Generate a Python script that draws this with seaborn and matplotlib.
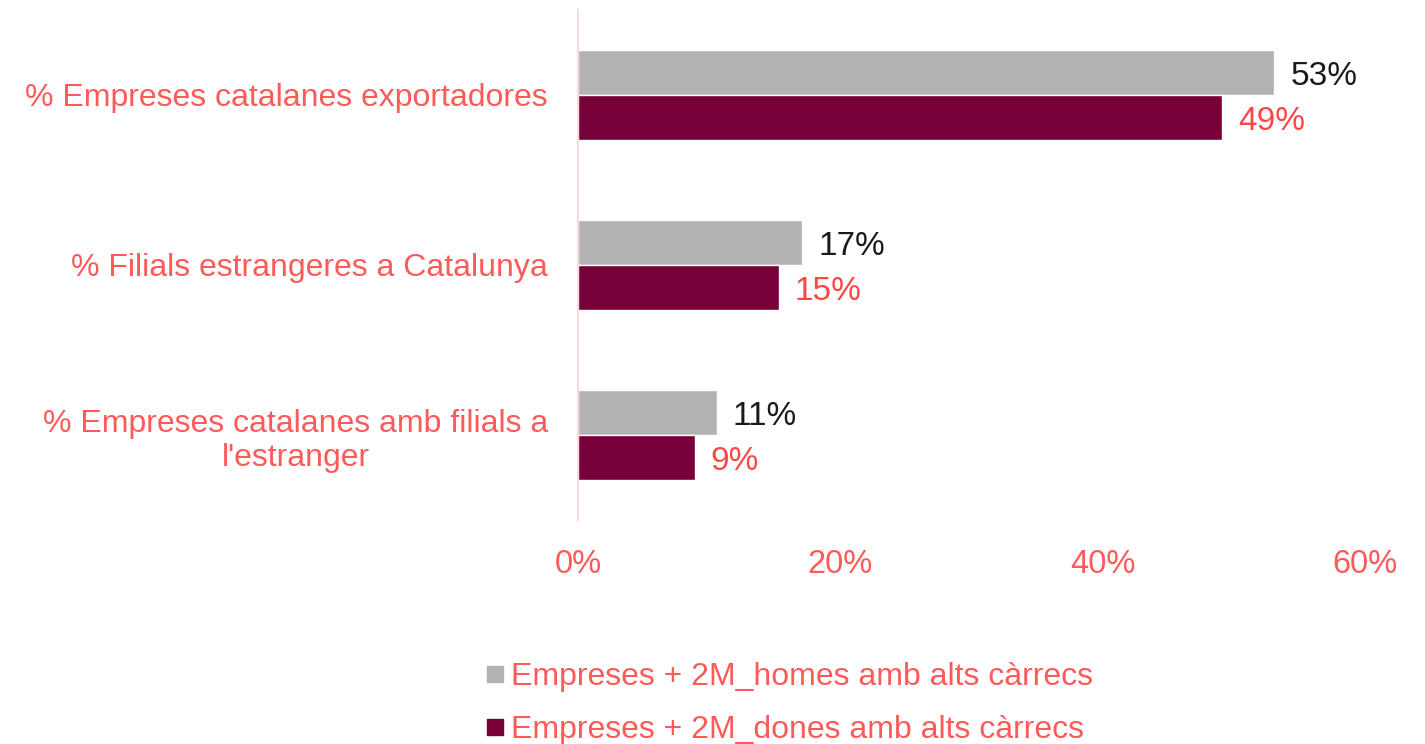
import numpy as np
import pandas as pd
import matplotlib
matplotlib.use('Agg')
import matplotlib.pyplot as plt
import matplotlib.ticker as mticker
from matplotlib.lines import Line2D
import seaborn as sns

# ── Data ────────────────────────────────────────────────────
categories = [
    '% Empreses catalanes exportadores',
    '% Filials estrangeres a Catalunya',
    "% Empreses catalanes amb filials a\nl'estranger",
]
series = [
    'Empreses + 2M_homes amb alts càrrecs',
    'Empreses + 2M_dones amb alts càrrecs',
]
homes = [0.531, 0.171, 0.106]
dones = [0.491, 0.153, 0.089]
x_ticks = [0.0, 0.2, 0.4, 0.6]

PALETTE = {
    'grey'   : '#b2b2b2',
    'maroon' : '#780038',
    'red'    : '#ff5a5a',
    'label_r': '#ff4545',
    'dark'   : '#1a1a1a',
    'axis'   : '#fadada',
}

df = pd.DataFrame({
    'cat'  : categories * 2,
    'serie': [series[0]] * 3 + [series[1]] * 3,
    'val'  : homes + dones,
})

sns.set_style('white')
plt.rcParams['font.family'] = ['Liberation Sans', 'DejaVu Sans']

fig = plt.figure(figsize=(14.25, 7.44), dpi=100)
ax = fig.add_axes([0.4056, 0.301, 0.5523, 0.6857])

sns.barplot(
    data=df, y='cat', x='val', hue='serie', orient='h',
    order=categories, hue_order=series,
    palette=[PALETTE['grey'], PALETTE['maroon']],
    width=0.53, saturation=1, legend=False, ax=ax,
)

# value labels (nudged slightly downward like the original)
label_colors = [PALETTE['dark'], PALETTE['label_r']]
for cont, col in zip(ax.containers, label_colors):
    texts = ax.bar_label(cont, labels=[f'{b.get_width():.0%}' for b in cont],
                         padding=11.5, color=col, fontsize=24)
    for t in texts:
        t.xyann = (11.5, -3)

ax.set_xlim(0, 0.6)
ax.set_ylim(2.5, -0.5)
ax.set_xticks(x_ticks)
ax.xaxis.set_major_formatter(mticker.PercentFormatter(1.0, decimals=0))
ax.set_xlabel('')
ax.set_ylabel('')
ax.tick_params(axis='x', colors=PALETTE['red'], labelsize=23.5, length=0, pad=21)
ax.tick_params(axis='y', colors=PALETTE['red'], labelsize=23, length=0, pad=21.5)
for lab in ax.get_yticklabels():
    lab.set_multialignment('center')
for side in ['top', 'right', 'bottom']:
    ax.spines[side].set_visible(False)
ax.spines['left'].set_color(PALETTE['axis'])
ax.spines['left'].set_linewidth(1.5)

handles = [
    Line2D([], [], marker='s', linestyle='', markersize=12,
           markerfacecolor=c, markeredgecolor=c)
    for c in [PALETTE['grey'], PALETTE['maroon']]
]
fig.legend(handles, series, loc='center', bbox_to_anchor=(0.5515, 0.0545),
           ncol=1, frameon=False, fontsize=23, labelcolor=PALETTE['red'],
           handletextpad=0.0, labelspacing=0.73, handlelength=1.0,
           borderpad=0.2)

fig.savefig('out.png', dpi=100, facecolor='white')
